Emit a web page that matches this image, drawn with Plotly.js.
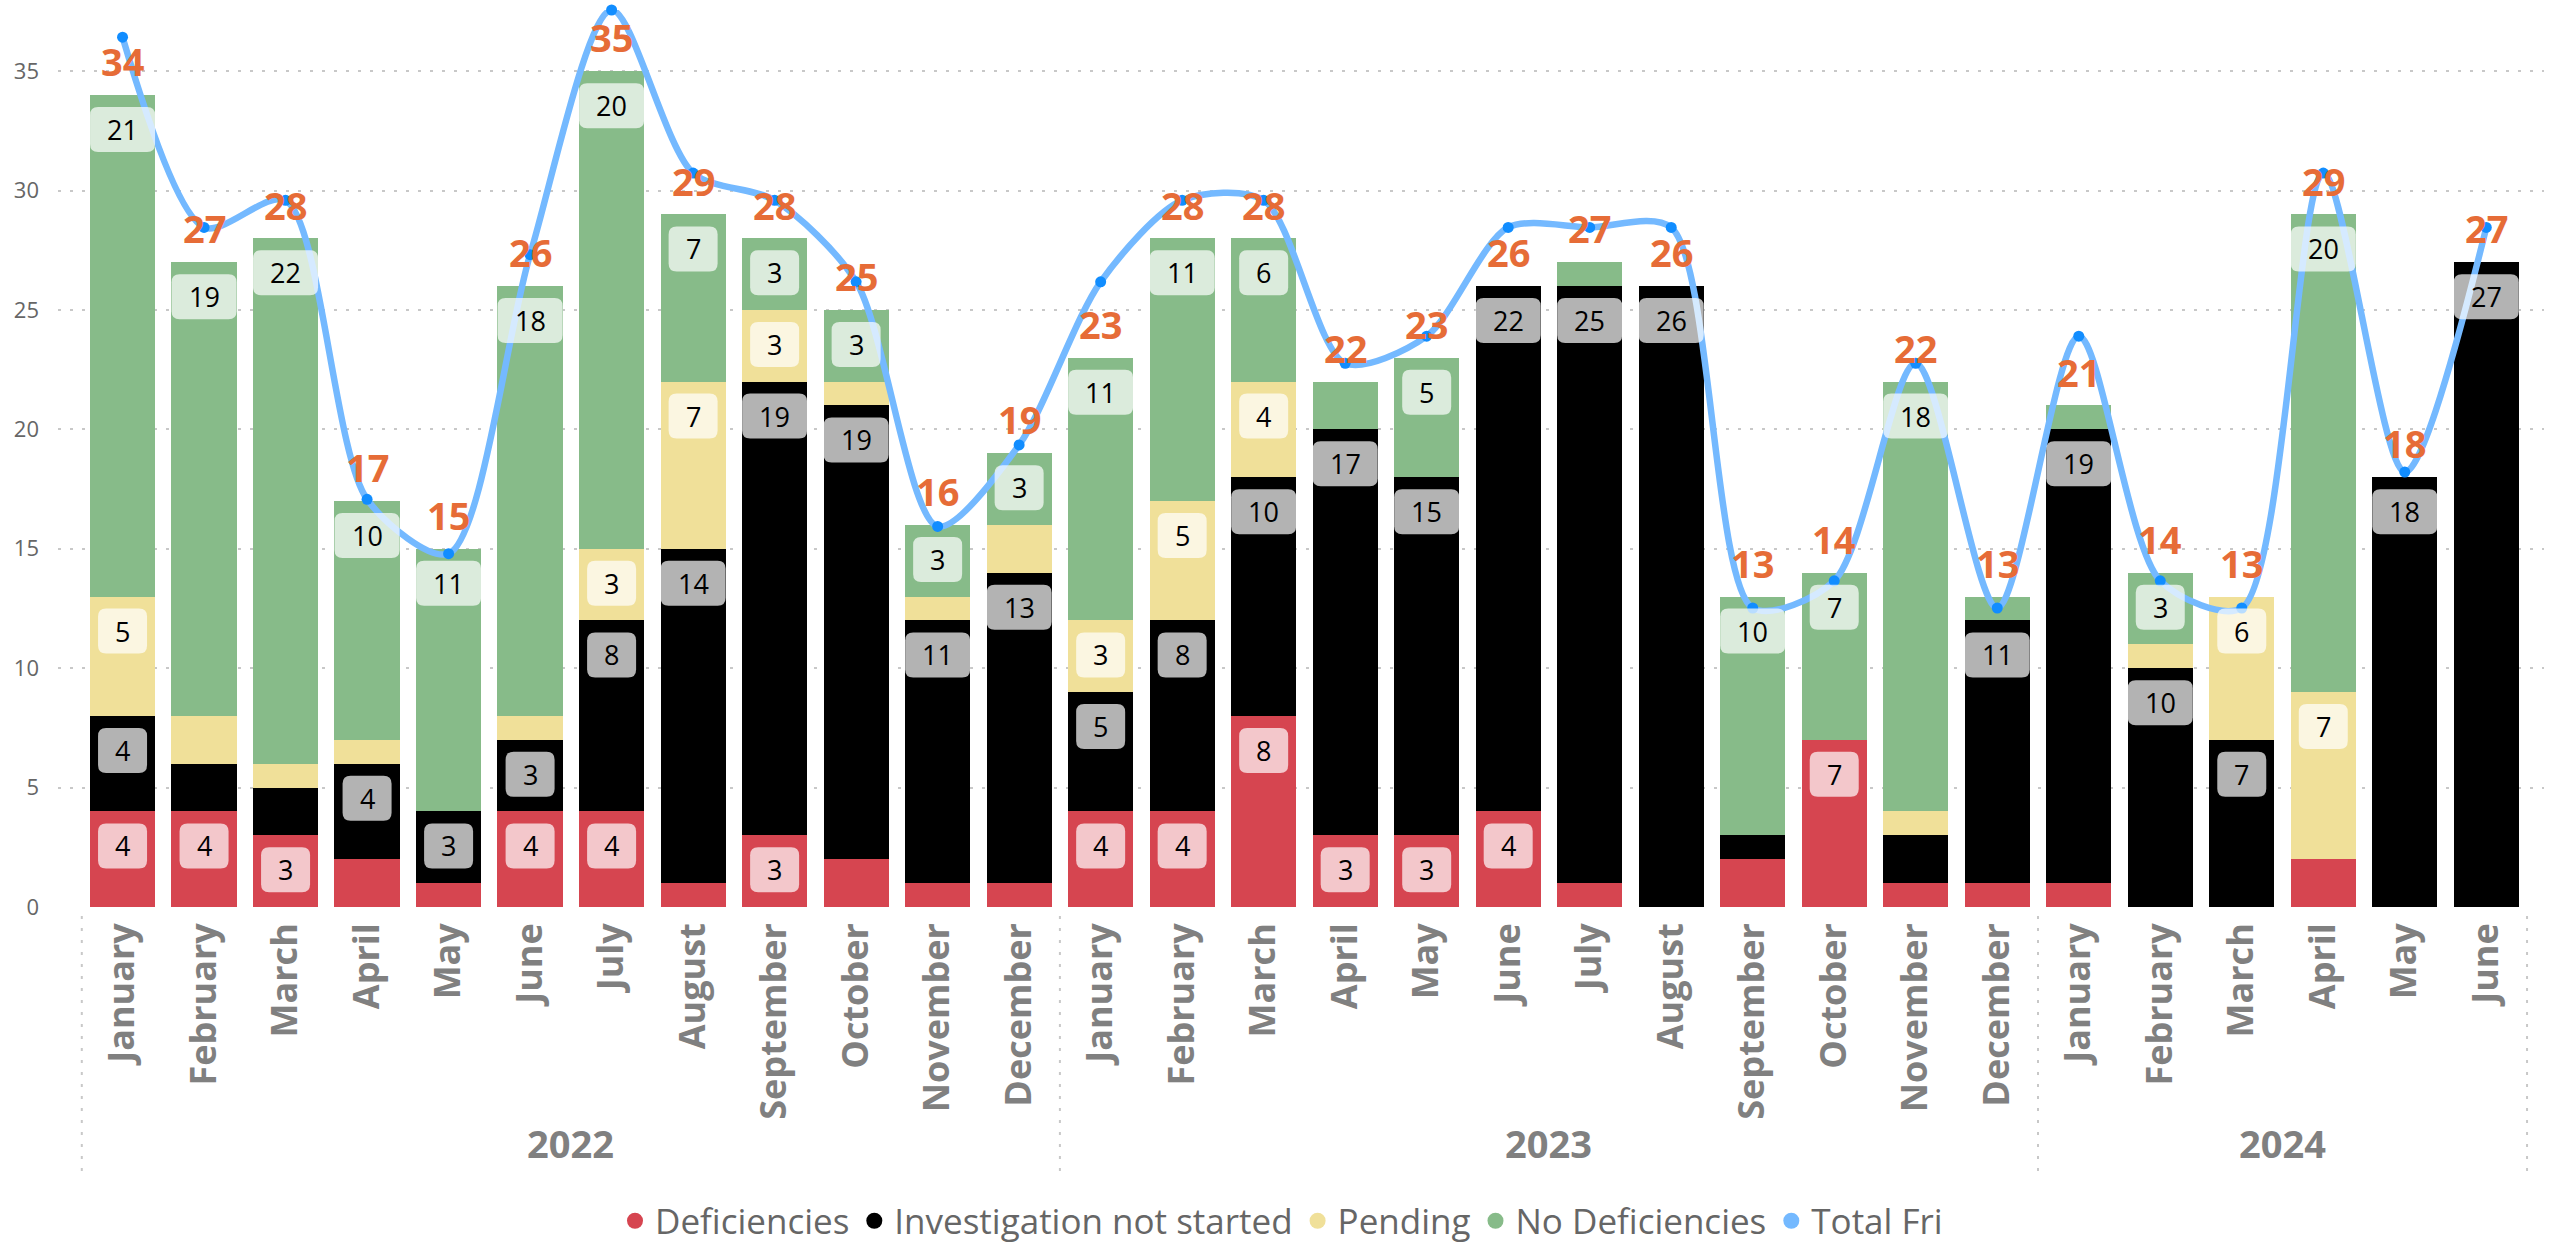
<!DOCTYPE html>
<html><head><meta charset="utf-8">
<script src="https://cdn.plot.ly/plotly-3.0.1.min.js"></script>
<style>html,body{margin:0;padding:0;background:#fff}#chart{width:2563px;height:1245px}</style>
</head><body><div id="chart"></div>
<script>
// ---- data ----
const months = ['January','February','March','April','May','June','July','August','September','October','November','December',
                'January','February','March','April','May','June','July','August','September','October','November','December',
                'January','February','March','April','May','June'];
const years = ['2022','2023','2024'];
const monthsPerYear = [12, 12, 6];
const deficiencies = [4,4,3,2,1,4,4,1,3,2,1,1, 4,4,8,3,3,4,1,0,2,7,1,1, 1,0,0,2,0,0];
const notStarted   = [4,2,2,4,3,3,8,14,19,19,11,13, 5,8,10,17,15,22,25,26,1,0,2,11, 19,10,7,0,18,27];
const pending      = [5,2,1,1,0,1,3,7,3,1,1,2, 3,5,4,0,0,0,0,0,0,0,1,0, 0,1,6,7,0,0];
const noDeficiencies = [21,19,22,10,11,18,20,7,3,3,3,3, 11,11,6,2,5,0,1,0,10,7,18,1, 1,3,0,20,0,0];
const barTotals    = [34,27,28,17,15,26,35,29,28,25,16,19, 23,28,28,22,23,26,27,26,13,14,22,13, 21,14,13,29,18,27];
const totalFri     = [34,27,28,17,15,26,35,29,28,25,16,19, 25,28,28,22,23,27,27,27,13,14,22,13, 23,14,13,29,18,27];

const seriesNames = ['Deficiencies','Investigation not started','Pending','No Deficiencies'];
const seriesValues = [deficiencies, notStarted, pending, noDeficiencies];
const seriesColors = ['#D64550','#000000','#F0E099','#87BB89'];
const lineColor = '#74B9FF', markerColor = '#118DFF', totalColor = '#E66C37';

const idx = months.map((m,i)=>i);
const traces = [];
seriesValues.forEach((vals,s)=>{
  traces.push({type:'bar', x: idx, y: vals, name: seriesNames[s], marker:{color: seriesColors[s], line:{width:0}},
               showlegend:false, hoverinfo:'skip'});
});
traces.push({type:'scatter', x: idx, y: totalFri, yaxis:'y2', mode:'lines+markers', name:'Total Fri',
  line:{color: lineColor, width:6.5, shape:'spline', smoothing:0.8}, marker:{size:11, color: markerColor},
  cliponaxis:false, showlegend:false, hoverinfo:'skip'});
// legend entries (circles)
seriesNames.concat(['Total Fri']).forEach((n,k)=>{
  traces.push({type:'scatter', x:[null], y:[null], mode:'markers', name:n,
    marker:{symbol:'circle', size:16, color: k<4 ? seriesColors[k] : lineColor}, showlegend:true, hoverinfo:'skip'});
});

const shapes = [], annotations = [];
// segment labels with rounded boxes
idx.forEach(i=>{
  let cum = 0;
  seriesValues.forEach((vals,s)=>{
    const v = vals[i];
    cum += v;
    if (v >= 3) {
      const w = String(v).length > 1 ? 65 : 49, hw = w/2, top = -12, bot = -57, r = 8;
      const p = `M ${-hw+r},${top} L ${hw-r},${top} Q ${hw},${top} ${hw},${top-r} L ${hw},${bot+r} Q ${hw},${bot} ${hw-r},${bot} `+
                `L ${-hw+r},${bot} Q ${-hw},${bot} ${-hw},${bot+r} L ${-hw},${top-r} Q ${-hw},${top} ${-hw+r},${top} Z`;
      shapes.push({type:'path', xref:'x', yref:'y', xsizemode:'pixel', ysizemode:'pixel', xanchor:i, yanchor:cum,
        path:p, fillcolor:'rgba(255,255,255,0.7)', line:{width:0}, layer:'above'});
      annotations.push({x:i, y:cum, xref:'x', yref:'y', text:String(v), showarrow:false, yanchor:'middle', yshift:-34.5,
        font:{family:'Open Sans', size:27, color:'#000'}});
    }
  });
  annotations.push({x:i, y:barTotals[i], xref:'x', yref:'y', text:String(barTotals[i]), showarrow:false,
    yanchor:'middle', yshift:33.8, font:{family:'Open Sans', size:38, color: totalColor, weight:'bold'}});
});
// year labels and dotted separators
let start = 0;
const plotH = 907 - 10;
shapes.push({type:'line', xref:'x', yref:'paper', x0:start-0.5, x1:start-0.5, y0:-9/plotH, y1:-265/plotH,
  line:{color:'#c8c8c8', width:2, dash:'3px,9px'}});
years.forEach((y,k)=>{
  const n = monthsPerYear[k];
  annotations.push({x: start + (n-1)/2, y: -236/plotH, xref:'x', yref:'paper', text:y, showarrow:false, yanchor:'middle',
    font:{family:'Open Sans', size:38, color:'#808080', weight:'bold'}});
  start += n;
  shapes.push({type:'line', xref:'x', yref:'paper', x0:start-0.5, x1:start-0.5, y0:-9/plotH, y1:-265/plotH,
    line:{color:'#c8c8c8', width:2, dash:'3px,9px'}});
});

const layout = {
  width:2563, height:1245,
  margin:{l:58, r:19, t:10, b:338, pad:0, autoexpand:false},
  paper_bgcolor:'#fff', plot_bgcolor:'#fff',
  font:{family:'Open Sans', color:'#666'},
  barmode:'stack', bargap:0.2,
  xaxis:{range:[-0.792, 29.708], tickmode:'array', tickvals: idx, ticktext: months, tickangle:-90,
    tickfont:{family:'Open Sans', size:36, color:'#808080', weight:'bold'}, ticklabelstandoff:8,
    showgrid:false, zeroline:false, showline:false, ticks:'', fixedrange:true},
  yaxis:{range:[0, 37.56], tick0:0, dtick:5, showgrid:true, gridcolor:'#c8c8c8', gridwidth:2, griddash:'3px,9px',
    zeroline:false, showline:false, ticks:'', tickfont:{family:'Open Sans', size:22, color:'#666'}, ticklabelstandoff:18},
  yaxis2:{overlaying:'y', range:[2,35], visible:false},
  showlegend:true,
  legend:{orientation:'h', traceorder:'normal', xref:'container', yref:'container', x:0.5, xanchor:'center',
    y:1-1221/1245, yanchor:'middle',
    font:{family:'Open Sans', size:35, color:'#666'}, bgcolor:'rgba(0,0,0,0)', itemclick:false},
  shapes: shapes, annotations: annotations
};
Plotly.newPlot('chart', traces, layout, {staticPlot:true, displayModeBar:false});
</script></body></html>
